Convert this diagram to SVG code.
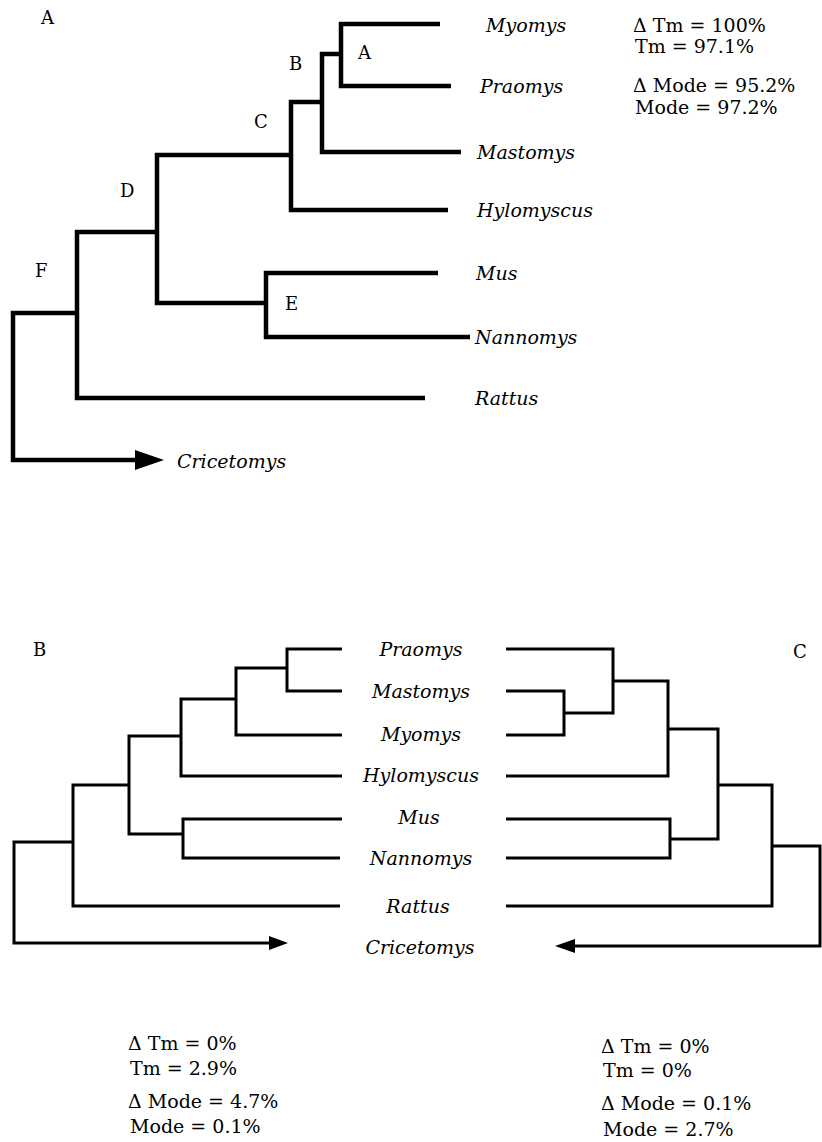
<svg xmlns="http://www.w3.org/2000/svg" width="822" height="1142" viewBox="0 0 822 1142">
<style>
text{font-family:"DejaVu Serif","Liberation Serif",serif;fill:#000}
.sp{font-style:italic;font-size:19px}
.lb{font-size:18px}
.st{font-size:19px}
.thick{fill:none;stroke:#000;stroke-width:4.5;stroke-linejoin:miter}
.thin{fill:none;stroke:#000;stroke-width:3;stroke-linejoin:miter}
.ah{fill:#000;stroke:none}
.bsp{font-style:italic;font-size:19px;text-anchor:middle}
</style>
<rect width="822" height="1142" fill="#fff"/>

<!-- Panel A -->
<g id="panelA-label"><text class="lb" x="41" y="24">A</text></g>
<g id="connectors-A">
  <path class="thick" d="M440,24 H341 V86 H451"/>
  <path class="thick" d="M341,54 H322 V152 H461"/>
  <path class="thick" d="M322,102 H291 V210 H448"/>
  <path class="thick" d="M291,155 H157 V303 H266"/>
  <path class="thick" d="M438,273 H266 V337 H470"/>
  <path class="thick" d="M157,232 H77 V398 H425"/>
  <path class="thick" d="M77,313 H13 V460 H140"/>
  <polygon class="ah" points="135,450 164,460 135,470"/>
</g>
<g id="nodeA-A"><text class="lb" x="358" y="59">A</text></g>
<g id="nodeA-B"><text class="lb" x="289" y="70">B</text></g>
<g id="nodeA-C"><text class="lb" x="254" y="128">C</text></g>
<g id="nodeA-D"><text class="lb" x="120" y="197">D</text></g>
<g id="nodeA-E"><text class="lb" x="285" y="310">E</text></g>
<g id="nodeA-F"><text class="lb" x="35" y="277">F</text></g>
<g id="A-Myomys"><text class="sp" x="486" y="32">Myomys</text></g>
<g id="A-Praomys"><text class="sp" x="480" y="93">Praomys</text></g>
<g id="A-Mastomys"><text class="sp" x="477" y="159">Mastomys</text></g>
<g id="A-Hylomyscus"><text class="sp" x="477" y="217">Hylomyscus</text></g>
<g id="A-Mus"><text class="sp" x="476" y="280">Mus</text></g>
<g id="A-Nannomys"><text class="sp" x="475" y="344">Nannomys</text></g>
<g id="A-Rattus"><text class="sp" x="475" y="405">Rattus</text></g>
<g id="A-Cricetomys"><text class="sp" x="177" y="468">Cricetomys</text></g>
<g id="A-stats">
  <text class="st" x="633" y="32">Δ Tm = 100%</text>
  <text class="st" x="635" y="53">Tm = 97.1%</text>
  <text class="st" x="633" y="92">Δ Mode = 95.2%</text>
  <text class="st" x="635" y="114">Mode = 97.2%</text>
</g>

<!-- Panel B -->
<g id="panelB-label"><text class="lb" x="33" y="656">B</text></g>
<g id="connectors-B">
  <path class="thin" d="M342,649 H287 V691 H342"/>
  <path class="thin" d="M287,668 H236 V735 H342"/>
  <path class="thin" d="M236,699 H181 V776 H342"/>
  <path class="thin" d="M181,736 H129 V834 H183"/>
  <path class="thin" d="M342,819 H183 V858 H340"/>
  <path class="thin" d="M129,785 H73 V906 H340"/>
  <path class="thin" d="M73,842 H14 V943 H272"/>
  <polygon class="ah" points="269,936 288,943 269,950"/>
</g>

<!-- Shared species labels -->
<g id="Praomys"><text class="bsp" x="421" y="656">Praomys</text></g>
<g id="Mastomys"><text class="bsp" x="421" y="698">Mastomys</text></g>
<g id="Myomys"><text class="bsp" x="421" y="741">Myomys</text></g>
<g id="Hylomyscus"><text class="bsp" x="421" y="782">Hylomyscus</text></g>
<g id="Mus"><text class="bsp" x="419" y="824">Mus</text></g>
<g id="Nannomys"><text class="bsp" x="421" y="865">Nannomys</text></g>
<g id="Rattus"><text class="bsp" x="418" y="913">Rattus</text></g>
<g id="Cricetomys"><text class="bsp" x="420" y="954">Cricetomys</text></g>

<!-- Panel C -->
<g id="panelC-label"><text class="lb" x="793" y="658">C</text></g>
<g id="connectors-C">
  <path class="thin" d="M506,649 H613 V713 H564"/>
  <path class="thin" d="M506,691 H564 V735 H506"/>
  <path class="thin" d="M613,681 H668 V776 H506"/>
  <path class="thin" d="M668,729 H718 V839 H670"/>
  <path class="thin" d="M506,819 H670 V858 H506"/>
  <path class="thin" d="M718,785 H772 V906 H506"/>
  <path class="thin" d="M772,846 H820 V946 H572"/>
  <polygon class="ah" points="575,939 555,946 575,953"/>
</g>

<g id="B-stats">
  <text class="st" x="128" y="1050">Δ Tm = 0%</text>
  <text class="st" x="130" y="1075">Tm = 2.9%</text>
  <text class="st" x="128" y="1108">Δ Mode = 4.7%</text>
  <text class="st" x="130" y="1133">Mode = 0.1%</text>
</g>
<g id="C-stats">
  <text class="st" x="601" y="1053">Δ Tm = 0%</text>
  <text class="st" x="603" y="1077">Tm = 0%</text>
  <text class="st" x="601" y="1110">Δ Mode = 0.1%</text>
  <text class="st" x="603" y="1136">Mode = 2.7%</text>
</g>
</svg>
